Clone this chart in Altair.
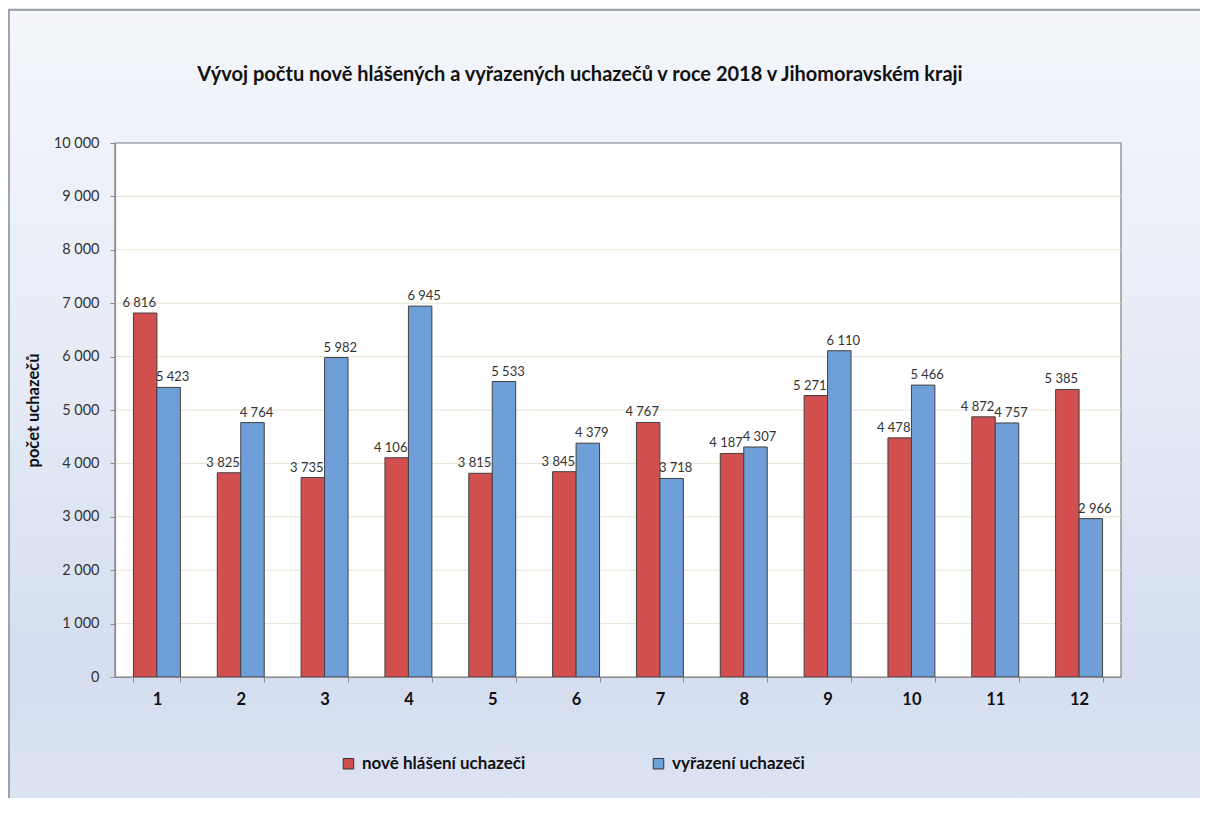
import altair as alt
import pandas as pd

months = [str(i) for i in range(1, 13)]
nove = [6816, 3825, 3735, 4106, 3815, 3845, 4767, 4187, 5271, 4478, 4872, 5385]
vyrazeni = [5423, 4764, 5982, 6945, 5533, 4379, 3718, 4307, 6110, 5466, 4757, 2966]
series = ["nově hlášení uchazeči", "vyřazení uchazeči"]
colors = ["#D14F4F", "#6E9FD9"]
y_ticks = list(range(0, 10001, 1000))
title_text = "Vývoj počtu nově hlášených a vyřazených uchazečů v roce  2018 v Jihomoravském kraji"
y_title = "počet  uchazečů"

FONT = "Lato"
W, H = 1006, 534
PAD_L, PAD_T = 107, 135
TOTAL_W, TOTAL_H = 1192, 790

df = pd.DataFrame({
    "mesic": months * 2,
    "serie": [series[0]] * 12 + [series[1]] * 12,
    "pocet": nove + vyrazeni,
})
one = pd.DataFrame({"a": [0]})
grid_df = pd.DataFrame({"v": y_ticks[1:-1]})

yscale = alt.Scale(domain=[0, 10000], nice=False, zero=True)
xscale = alt.Scale(paddingInner=0.44, paddingOuter=0.22)
offscale = alt.Scale(paddingInner=0, paddingOuter=0)

y_axis = alt.Axis(
    values=y_ticks, grid=False, zindex=1,
    labelExpr="replace(format(datum.value, ','), ',', ' ')",
    title=y_title, titleFont=FONT, titleFontSize=16.5, titleFontWeight="bold",
    titleColor="#111111", titlePadding=12,
    labelFont=FONT, labelFontSize=14.5, labelColor="#333333", labelPadding=11,
    tickSize=5, tickColor="#8C8C8C", domainColor="#8C8C8C", domainWidth=1.2,
)
x_axis = alt.Axis(
    title=None, labelAngle=0, labelFont=FONT, labelFontSize=16.5,
    labelFontWeight="bold", labelColor="#111111", tickBand="extent",
    tickSize=5, tickColor="#8C8C8C", domainColor="#8C8C8C",
    domainWidth=1.2, labelPadding=9, grid=False, zindex=1,
)

gradient = alt.LinearGradient(
    gradient="linear",
    stops=[
        alt.GradientStop(color="#F4F6FB", offset=0),
        alt.GradientStop(color="#E7ECF7", offset=0.4),
        alt.GradientStop(color="#D4DEF0", offset=0.8),
        alt.GradientStop(color="#DEE5F4", offset=1),
    ],
    x1=0, x2=0, y1=0, y2=1,
)

bg = alt.Chart(one).mark_rect(
    clip=False, fill=gradient, stroke="#8C8C8C", strokeWidth=1.5
).encode(
    x=alt.value(-106), x2=alt.value(W + 120),
    y=alt.value(-133), y2=alt.value(H + 160),
)

plot_bg = alt.Chart(one).mark_rect(
    fill="white", stroke="#7F7F7F", strokeWidth=1.2
).encode(
    x=alt.value(0), x2=alt.value(W), y=alt.value(0), y2=alt.value(H)
)

grid = alt.Chart(grid_df).mark_rule(color="#E8E4D3", strokeWidth=1).encode(
    y=alt.Y("v:Q", scale=yscale, axis=y_axis, title=y_title)
)

title = alt.Chart(one).mark_text(
    text=title_text, font=FONT, fontSize=20, fontWeight="bold",
    color="#111111", align="center", baseline="middle"
).encode(x=alt.value(465), y=alt.value(-68))

x_enc = alt.X("mesic:N", sort=months, scale=xscale, axis=x_axis)
off_enc = alt.XOffset("serie:N", sort=series, scale=offscale)
y_enc = alt.Y("pocet:Q", scale=yscale, axis=y_axis, title=y_title)

bars = alt.Chart(df).mark_bar(stroke="#404040", strokeWidth=1).encode(
    x=x_enc,
    xOffset=off_enc,
    y=y_enc,
    color=alt.Color(
        "serie:N",
        scale=alt.Scale(domain=series, range=colors),
        legend=alt.Legend(
            orient="none", legendX=225, legendY=612, direction="horizontal",
            title=None, symbolType="square", symbolSize=110,
            symbolStrokeColor="#333333", symbolStrokeWidth=1,
            labelFont=FONT, labelFontSize=17, labelFontWeight="bold",
            labelColor="#111111", labelOffset=5, columnPadding=124,
            labelLimit=400,
        ),
    ),
)

lbl_expr = "replace(format(datum.pocet, ','), ',', ' ')"


def label_layer(name, dx):
    return alt.Chart(df).transform_filter(
        alt.datum.serie == name
    ).transform_calculate(lbl=lbl_expr).mark_text(
        baseline="bottom", dy=-3, dx=dx, font=FONT, fontSize=13,
        color="#333333"
    ).encode(x=x_enc, xOffset=off_enc, y=y_enc, text="lbl:N")


labels_a = label_layer(series[0], -6)
labels_b = label_layer(series[1], 4)

chart = alt.layer(bg, plot_bg, grid, bars, labels_a, labels_b, title).properties(
    width=W, height=H,
    autosize=alt.AutoSizeParams(type="none"),
    padding={"left": PAD_L, "top": PAD_T,
             "right": TOTAL_W - PAD_L - W, "bottom": TOTAL_H - PAD_T - H},
).configure_view(stroke=None).configure(background="#DEE5F4")

chart.save("out.html", embed_options={"renderer": "svg", "actions": False})
